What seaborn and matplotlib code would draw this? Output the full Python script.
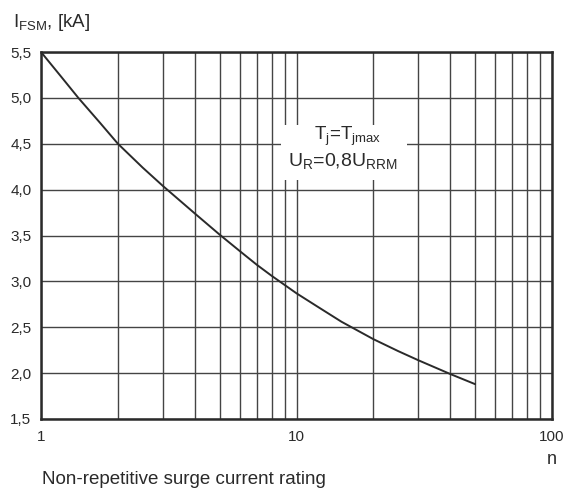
import numpy as np
import matplotlib
matplotlib.use("Agg")
import matplotlib.pyplot as plt
import seaborn as sns
from matplotlib.ticker import FixedLocator, FuncFormatter, NullFormatter, LogLocator
from matplotlib.patches import Rectangle

# values
n_values = [1, 1.2, 1.4, 1.7, 2, 2.5, 3, 4, 5, 6, 7, 8, 10, 12, 15, 20, 25, 30, 40, 50]
ifsm_values = [5.5, 5.23, 5.0, 4.73, 4.5, 4.24, 4.04, 3.74, 3.51, 3.33, 3.18, 3.06,
               2.87, 2.73, 2.56, 2.37, 2.24, 2.14, 1.99, 1.88]
x_ticks = [1, 10, 100]
x_labels = ["1", "10", "100"]
y_ticks = [1.5, 2.0, 2.5, 3.0, 3.5, 4.0, 4.5, 5.0, 5.5]

sns.set_style("white")
plt.rcParams["font.family"] = ["Liberation Sans", "DejaVu Sans"]
plt.rcParams["mathtext.fontset"] = "custom"
plt.rcParams["mathtext.rm"] = "Liberation Sans"

ink = "#2a2a2a"

fig = plt.figure(figsize=(5.68, 4.93), dpi=100)
ax = fig.add_axes([41 / 568, 1 - 419 / 493, (552 - 41) / 568, (419 - 52) / 493])

sns.lineplot(x=n_values, y=ifsm_values, ax=ax, color=ink, lw=1.4, sort=False, zorder=3)

ax.set_xscale("log")
ax.set_xlim(1, 100)
ax.set_ylim(1.5, 5.5)

ax.xaxis.set_major_locator(FixedLocator(x_ticks))
ax.set_xticklabels(x_labels)
ax.xaxis.set_minor_locator(LogLocator(base=10, subs=np.arange(2, 10)))
ax.xaxis.set_minor_formatter(NullFormatter())
ax.yaxis.set_major_locator(FixedLocator(y_ticks))
ax.yaxis.set_major_formatter(FuncFormatter(lambda v, p: f"{v:.1f}".replace(".", ",")))

ax.tick_params(axis="both", which="both", length=0, labelsize=11, colors=ink)
ax.tick_params(axis="x", pad=8)
ax.tick_params(axis="y", pad=7)

ax.set_axisbelow(True)
ax.grid(True, which="both", axis="x", color="#444444", lw=1.0)
ax.grid(True, which="major", axis="y", color="#444444", lw=1.0)
for s in ax.spines.values():
    s.set_color(ink)
    s.set_linewidth(1.8)

ax.set_xlabel("")
ax.set_ylabel("")

# white box behind the conditions
ax.add_patch(Rectangle((8.7, 4.10), 27.0 - 8.7, 4.70 - 4.10, facecolor="white",
                       edgecolor="none", zorder=1.5))
ax.text(15.8, 4.54, r"T$_{\mathregular{j}}$=T$_{\mathregular{jmax}}$", ha="center",
        va="baseline", fontsize=13.5, color=ink, zorder=4)
ax.text(15.1, 4.25, r"U$_{\mathregular{R}}$=0,8U$_{\mathregular{RRM}}$", ha="center",
        va="baseline", fontsize=14, color=ink, zorder=4)

fig.text(13 / 568, 1 - 27 / 493, r"I$_{\mathregular{FSM}}$, [kA]", fontsize=13.5,
         color=ink, ha="left", va="baseline")
fig.text(552 / 568, 1 - 460 / 493, "n", fontsize=13, color=ink, ha="center", va="center")
fig.text(42 / 568, 1 - 479 / 493, "Non-repetitive surge current rating", fontsize=13.5,
         color=ink, ha="left", va="center")

fig.savefig("out.png", dpi=100, facecolor="white")
